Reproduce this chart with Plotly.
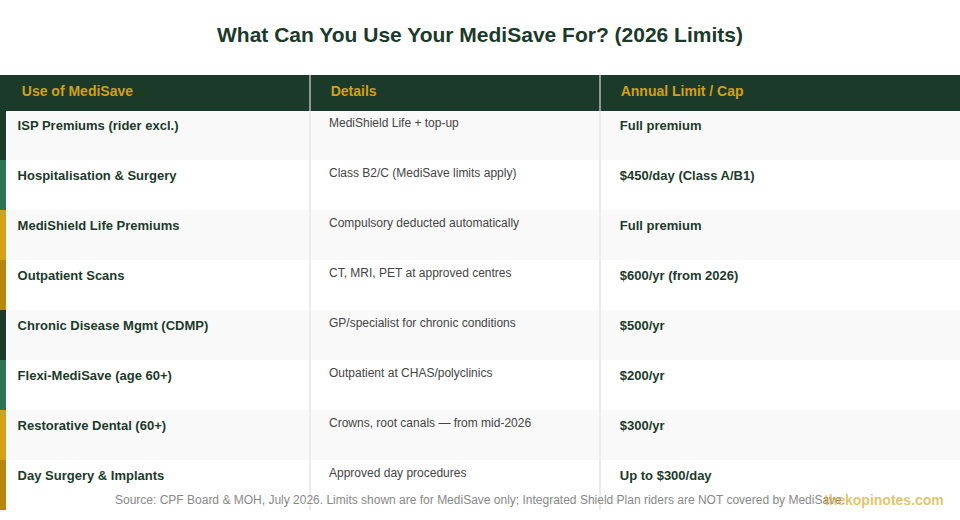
import plotly.graph_objects as go

# Table content
HEADERS = ["Use of MediSave", "Details", "Annual Limit / Cap"]

USES = [
    "ISP Premiums (rider excl.)",
    "Hospitalisation & Surgery",
    "MediShield Life Premiums",
    "Outpatient Scans",
    "Chronic Disease Mgmt (CDMP)",
    "Flexi-MediSave (age 60+)",
    "Restorative Dental (60+)",
    "Day Surgery & Implants",
]

DETAILS = [
    "MediShield Life + top-up",
    "Class B2/C (MediSave limits apply)",
    "Compulsory deducted automatically",
    "CT, MRI, PET at approved centres",
    "GP/specialist for chronic conditions",
    "Outpatient at CHAS/polyclinics",
    "Crowns, root canals — from mid-2026",
    "Approved day procedures",
]

LIMITS = [
    "Full premium",
    "$450/day (Class A/B1)",
    "Full premium",
    "$600/yr (from 2026)",
    "$500/yr",
    "$200/yr",
    "$300/yr",
    "Up to $300/day",
]

SOURCE = ("Source: CPF Board & MOH, July 2026. Limits shown are for MediSave only; "
          "Integrated Shield Plan riders are NOT covered by MediSave.")
WATERMARK = "thekopinotes.com"

# Styling
DARK_GREEN = "#1b3a2a"
GOLD = "#d4a017"
STRIPE_CYCLE = [DARK_GREEN, "#2d7355", "#d4a017", "#b8860b"]
ROW_FILLS = ["#f9f9f9", "#ffffff"]
GRID = "#ebebeb"
HEADER_GRID = "#8a9a90"
FONT = "Arial, Liberation Sans, Helvetica, sans-serif"
NB = "\u00a0"  # non-breaking space used as left padding

n = len(USES)
stripe = [STRIPE_CYCLE[i % len(STRIPE_CYCLE)] for i in range(n)]
rows = [ROW_FILLS[i % 2] for i in range(n)]
grid = [GRID] * n
blank = [""] * n

# columns: colour stripe | use | separator | details | separator | limit
header_vals = ["", f"<b>{NB * 2}{HEADERS[0]}</b>", "",
               f"<b>{NB * 3}{HEADERS[1]}</b>", "", f"<b>{NB * 3}{HEADERS[2]}</b>"]
header_fill = [DARK_GREEN, DARK_GREEN, HEADER_GRID, DARK_GREEN, HEADER_GRID, DARK_GREEN]

cell_fill = [stripe, rows, grid, rows, grid, rows]

fig = go.Figure(go.Table(
    columnwidth=[6, 303, 2, 288, 2, 359],
    header=dict(
        values=header_vals,
        fill_color=header_fill,
        line_color=header_fill,
        font=dict(family=FONT, size=14, color=GOLD),
        align="left",
        height=35,
    ),
    cells=dict(
        values=[
            blank,
            [f"<b>{NB}{u}</b>" for u in USES],
            blank,
            [NB * 3 + d for d in DETAILS],
            blank,
            [f"<b>{NB * 3}{v}</b>" for v in LIMITS],
        ],
        fill_color=cell_fill,
        line_color=cell_fill,
        font=dict(
            family=FONT,
            size=[13, 13, 13, 12, 13, 13],
            color=[DARK_GREEN, DARK_GREEN, DARK_GREEN, "#444444", DARK_GREEN, DARK_GREEN],
        ),
        align="left",
        height=50,
    ),
))

fig.add_annotation(
    text=SOURCE, xref="paper", yref="paper", x=0.5, y=0.0,
    xanchor="center", yanchor="middle", yshift=10, showarrow=False,
    font=dict(family=FONT, size=12, color="#888888"),
)
fig.add_annotation(
    text=f"<b>{WATERMARK}</b>", xref="paper", yref="paper", x=0.985, y=0.0,
    xanchor="right", yanchor="middle", yshift=10, showarrow=False,
    font=dict(family=FONT, size=14, color="rgba(212,160,23,0.65)"),
)

fig.update_layout(
    title=dict(
        text="<b>What Can You Use Your MediSave For? (2026 Limits)</b>",
        x=0.5, xanchor="center", y=0.933, yanchor="middle",
        font=dict(family=FONT, size=21, color=DARK_GREEN),
    ),
    width=960, height=520,
    margin=dict(l=0, r=0, t=75, b=10),
    paper_bgcolor="white",
)

# drop the browser's default body margin so the figure sits at the page corner
fig.write_html(
    "out.html",
    config={"displayModeBar": False},
    post_script="document.body.style.margin='0';",
)
